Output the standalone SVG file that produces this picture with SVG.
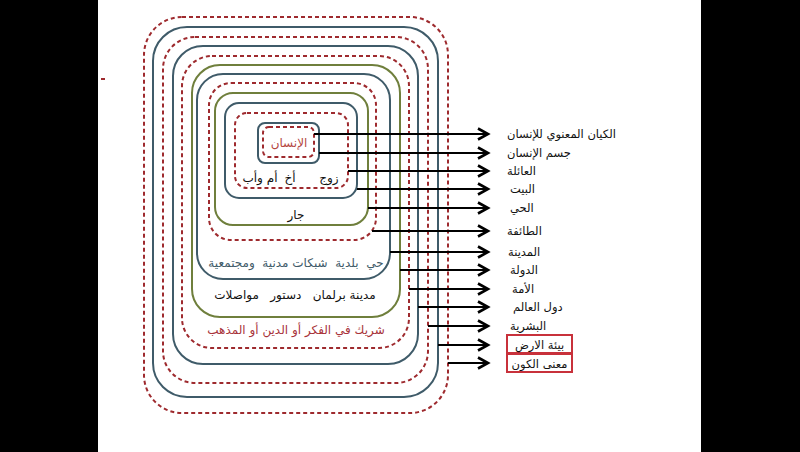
<svg xmlns="http://www.w3.org/2000/svg" width="800" height="452" viewBox="0 0 800 452">
<defs>
<style>
.bg{fill:#ffffff}
.bar{fill:#000000}
.rd{fill:none;stroke:#9e2a2e;stroke-width:2;stroke-dasharray:4 3}
.bl{fill:none;stroke:#3f5b69;stroke-width:2}
.ol{fill:none;stroke:#6f7f3c;stroke-width:2}
.ar{stroke:#000;stroke-width:2.2;fill:none}
.t{font-family:"DejaVu Sans",sans-serif;font-size:12px;fill:#111;white-space:pre}
.c{text-anchor:middle}
.lbl{font-family:"DejaVu Sans",sans-serif;font-size:11.5px;fill:#111}
.box{fill:none;stroke:#c8313b;stroke-width:2}
</style>
<marker id="ah" markerUnits="userSpaceOnUse" markerWidth="14" markerHeight="14" viewBox="-12 -7 14 14" refX="0" refY="0" orient="auto" overflow="visible">
<path d="M-10,-5.5 L0,0 L-10,5.5" stroke="#000" stroke-width="2.6" fill="none" stroke-linejoin="miter"/>
</marker>
</defs>
<rect class="bg" x="0" y="0" width="800" height="452"/>
<rect class="bar" x="0" y="0" width="98" height="452"/>
<rect class="bar" x="701" y="0" width="99" height="452"/>
<rect x="101" y="78" width="4" height="2" fill="#9e2a2e"/>

<g id="n-kawn"><rect class="rd" x="144" y="17" width="304" height="396" rx="38"/></g>
<g id="n-ard"><rect class="bl" x="153" y="27" width="285" height="370" rx="34"/></g>
<g id="n-bashariya"><rect class="rd" x="163" y="37" width="265" height="346" rx="32"/></g>
<g id="n-duwal"><rect class="bl" x="173" y="46" width="245" height="318" rx="30"/></g>
<g id="n-umma"><rect class="rd" x="182" y="56" width="227" height="292" rx="30"/>
<text class="t c" x="296" y="334" style="fill:#a8333a">شريك في الفكر أو الدين أو المذهب</text></g>
<g id="n-dawla"><rect class="ol" x="192" y="65" width="208" height="252" rx="28"/>
<text class="t c" x="295" y="299">مدينة برلمان   دستور   مواصلات</text></g>
<g id="n-madina"><rect class="bl" x="197" y="74" width="193" height="205" rx="26"/>
<text class="t c" x="296" y="267" style="fill:#3f5b69">حي  بلدية  شبكات مدنية  ومجتمعية</text></g>
<g id="n-taifa"><rect class="rd" x="209" y="83" width="167" height="157" rx="22"/></g>
<g id="n-hay"><rect class="ol" x="215" y="93" width="153" height="132" rx="18"/>
<text class="t c" x="296" y="219">جار</text></g>
<g id="n-bayt"><rect class="bl" x="225" y="103" width="132" height="95" rx="14"/></g>
<g id="n-aila"><rect class="rd" x="235" y="113" width="113" height="75" rx="12"/>
<text class="t c" x="329" y="182">زوج</text>
<text class="t c" x="290" y="182">أخ</text>
<text class="t c" x="260" y="182">أم وأب</text></g>
<g id="n-jism"><rect class="bl" x="258" y="123" width="61" height="40" rx="7"/></g>
<g id="n-kayan"><rect class="rd" x="263" y="127" width="51" height="30" rx="6"/>
<text class="t c" x="289" y="147" style="fill:#b5473f">الإنسان</text></g>

<g id="connectors">
<line class="ar" x1="314" y1="134" x2="488" y2="134" marker-end="url(#ah)"/>
<line class="ar" x1="319" y1="153" x2="488" y2="153" marker-end="url(#ah)"/>
<line class="ar" x1="348" y1="171" x2="488" y2="171" marker-end="url(#ah)"/>
<line class="ar" x1="357" y1="189" x2="488" y2="189" marker-end="url(#ah)"/>
<line class="ar" x1="368" y1="208" x2="488" y2="208" marker-end="url(#ah)"/>
<line class="ar" x1="372" y1="231" x2="488" y2="231" marker-end="url(#ah)"/>
<line class="ar" x1="390" y1="252" x2="488" y2="252" marker-end="url(#ah)"/>
<line class="ar" x1="400" y1="270" x2="488" y2="270" marker-end="url(#ah)"/>
<line class="ar" x1="409" y1="289" x2="488" y2="289" marker-end="url(#ah)"/>
<line class="ar" x1="418" y1="307" x2="488" y2="307" marker-end="url(#ah)"/>
<line class="ar" x1="428" y1="326" x2="488" y2="326" marker-end="url(#ah)"/>
<line class="ar" x1="438" y1="345" x2="488" y2="345" marker-end="url(#ah)"/>
<line class="ar" x1="448" y1="363" x2="488" y2="363" marker-end="url(#ah)"/>
</g>

<g id="labels">
<text class="lbl" x="507" y="138">الكيان المعنوي للإنسان</text>
<text class="lbl" x="507" y="157">جسم الإنسان</text>
<text class="lbl" x="507" y="175">العائلة</text>
<text class="lbl" x="510" y="193">البيت</text>
<text class="lbl" x="510" y="212">الحي</text>
<text class="lbl" x="507" y="235">الطائفة</text>
<text class="lbl" x="508" y="256">المدينة</text>
<text class="lbl" x="510" y="274">الدولة</text>
<text class="lbl" x="512" y="293">الأمة</text>
<text class="lbl" x="513" y="311">دول العالم</text>
<text class="lbl" x="510" y="330">البشرية</text>
<rect class="box" x="507" y="335" width="65" height="18"/>
<text class="lbl" x="539.5" y="349" text-anchor="middle">بيئة الارض</text>
<rect class="box" x="507" y="354" width="65" height="18"/>
<text class="lbl" x="539.5" y="368" text-anchor="middle">معنى الكون</text>
</g>
</svg>
